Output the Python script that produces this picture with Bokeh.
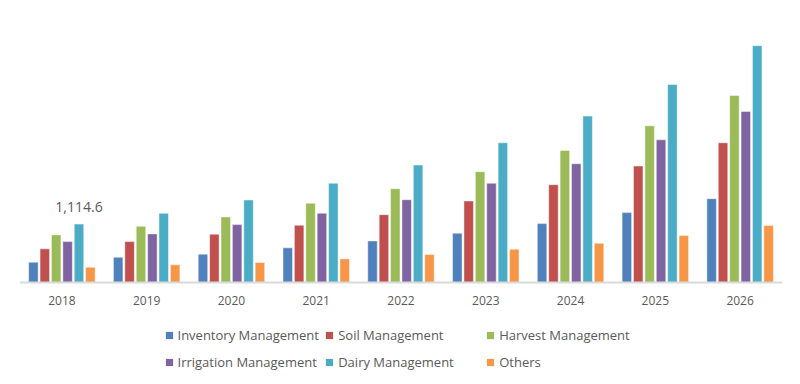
from bokeh.plotting import figure
from bokeh.models import FactorRange, Range1d, ColumnDataSource, Legend, LegendItem, Span
from bokeh.transform import dodge
from bokeh.core.properties import value
from bokeh.embed import file_html
from bokeh.resources import INLINE

years = ["2018", "2019", "2020", "2021", "2022", "2023", "2024", "2025", "2026"]
series = ["Inventory Management", "Soil Management", "Harvest Management",
          "Irrigation Management", "Dairy Management", "Others"]
inventory = [387, 482, 541, 661, 794, 941, 1124, 1334, 1600]
soil = [642, 781, 922, 1093, 1295, 1556, 1867, 2223, 2667]
harvest = [909, 1073, 1252, 1513, 1791, 2115, 2522, 2991, 3570]
irrigation = [781, 928, 1105, 1322, 1581, 1894, 2267, 2724, 3265]
dairy = [1114.6, 1320, 1575, 1894, 2242, 2667, 3176, 3780, 4520]
others = [291, 337, 381, 451, 533, 636, 751, 895, 1086]
values = [inventory, soil, harvest, irrigation, dairy, others]
colors = ["#4F81BD", "#C0504D", "#9BBB59", "#8064A2", "#4BACC6", "#F79646"]

FONT = "Open Sans"
GRAY = "#595959"

# frame spans full height; value 0 sits 282px from the top, 19.09 units per px
p = figure(frame_width=763, frame_height=384, x_range=FactorRange(*years),
           y_range=Range1d(-1947, 5383),
           output_backend="svg", toolbar_location=None,
           min_border_left=19, min_border_right=18, min_border_top=0, min_border_bottom=0)
p.outline_line_color = None
p.xgrid.visible = False
p.ygrid.visible = False
p.yaxis.visible = False
p.xaxis.visible = False
p.x_range.range_padding = 0
p.x_range.factor_padding = 0

p.add_layout(Span(location=0, dimension="width", line_color="#d9d9d9", line_width=2))

step = 0.1344
bw = 0.112
keys = {}
for i, (name, vals, col) in enumerate(zip(series, values, colors)):
    src = ColumnDataSource(dict(year=years, val=vals))
    off = (i - 2.5) * step
    p.vbar(x=dodge("year", off, range=p.x_range), top="val", bottom=0, width=bw, source=src,
           fill_color=col, line_color="white", line_alpha=0.45, line_width=1)
    # zero-size square markers on the same data, used only as legend keys
    keys[name] = p.scatter(x=dodge("year", off, range=p.x_range), y="val", source=src,
                           marker="square", size=0, fill_color=col, line_color=None)

# category tick labels
p.text(x=years, y=[0] * len(years), text=years, y_offset=18,
       text_font=value(FONT), text_font_size="12px", text_color=GRAY,
       text_align="center", text_baseline="middle")

lab_src = ColumnDataSource(dict(year=[years[0]], val=[dairy[0]], txt=[f"{dairy[0]:,.1f}"]))
p.text(x=dodge("year", 1.5 * step, range=p.x_range), y="val", text="txt", source=lab_src,
       text_font=value(FONT), text_font_size="14px", text_color=GRAY,
       text_align="center", text_baseline="bottom", y_offset=-12)

cols = [(series[0], series[3]), (series[1], series[4]), (series[2], series[5])]
xs = [140.5, 301.2, 462.2]
for (a, b), x in zip(cols, xs):
    leg = Legend(items=[LegendItem(label=a, renderers=[keys[a]]),
                        LegendItem(label=b, renderers=[keys[b]])],
                 location=(x, 13), orientation="vertical")
    leg.label_text_font = FONT
    leg.label_text_font_size = "13px"
    leg.label_text_color = GRAY
    leg.glyph_width = 18
    leg.glyph_height = 18
    leg.label_height = 10
    leg.label_standoff = 0
    leg.spacing = 9
    leg.padding = 0
    leg.margin = 0
    leg.border_line_color = None
    leg.background_fill_alpha = 0
    p.add_layout(leg, "center")

open("out.html", "w").write(file_html(p, INLINE))
